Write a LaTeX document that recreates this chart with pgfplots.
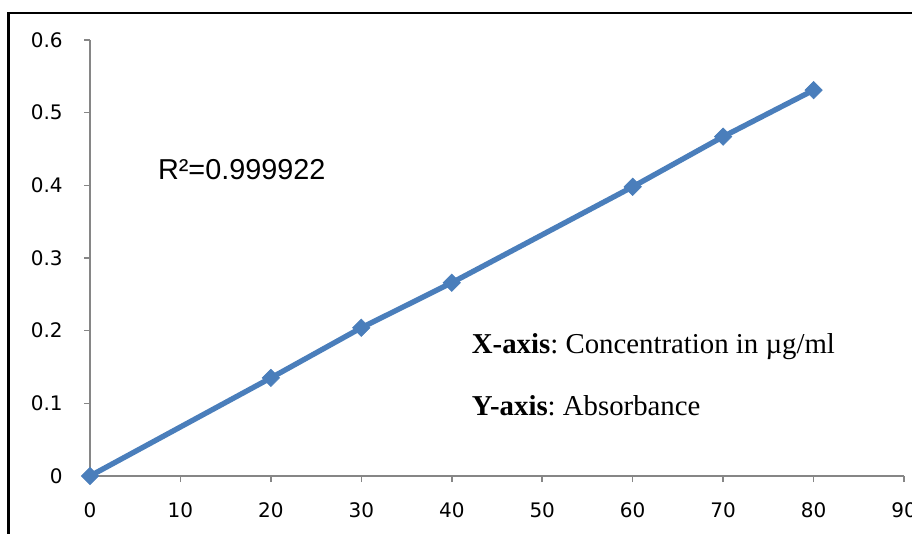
\documentclass[border=0pt]{standalone}
\usepackage{pgfplots}
\pgfplotsset{compat=1.18}
\usepackage{fontspec}
\setmainfont{DejaVu Sans}
\newfontfamily\arialfont{Liberation Sans}
\newfontfamily\timesfont{Liberation Serif}
\definecolor{excelblue}{HTML}{4A7EBB}
\definecolor{axgray}{HTML}{868686}
\frenchspacing
\begin{document}
\begin{tikzpicture}
\useasboundingbox (0pt,0pt) rectangle (684pt,399.75pt);
\clip (0pt,0pt) rectangle (684pt,399.75pt);
\draw[line width=1.9pt] (6.4pt,-5pt) -- (6.4pt,390pt) -- (690pt,390pt);
\begin{axis}[
  at={(67.5pt,42.75pt)}, anchor=south west,
  scale only axis, width=610.5pt, height=327pt,
  xmin=0, xmax=90, ymin=0, ymax=0.6,
  axis x line*=bottom, axis y line*=left,
  axis line style={axgray, line width=1.1pt},
  xtick={0,10,20,30,40,50,60,70,80,90},
  ytick={0,0.1,0.2,0.3,0.4,0.5,0.6},
  tick align=outside, major tick length=4.5pt,
  tick style={axgray, line width=1.1pt},
  /pgf/number format/assume math mode=true,
  ticklabel style={font=\fontsize{15}{18}\selectfont, text=black},
  yticklabel style={/pgf/number format/fixed, /pgf/number format/precision=1, xshift=-12.5pt},
  xticklabel style={yshift=-12pt},
  clip=false,
]
\addplot[color=excelblue, line width=4pt, mark=square*,
  mark size=4.6pt, mark options={rotate=45, solid, fill=excelblue, draw=excelblue, line width=0.5pt}]
  coordinates {(0,0) (20,0.135) (30,0.204) (40,0.266) (60,0.398) (70,0.467) (80,0.531)};
\node[anchor=base west, inner sep=0pt, font=\arialfont\fontsize{21.6}{25}\selectfont] at (axis cs:7.5,0.4085) {R²=0.999922};
\node[anchor=base west, inner sep=0pt, font=\timesfont\fontsize{21.6}{26}\selectfont] at (axis cs:42.2,0.169) {\textbf{X-axis}: Concentration in µg/ml};
\node[anchor=base west, inner sep=0pt, font=\timesfont\fontsize{21.6}{26}\selectfont] at (axis cs:42.2,0.0839) {\textbf{Y-axis}: Absorbance};
\end{axis}
\end{tikzpicture}
\end{document}
